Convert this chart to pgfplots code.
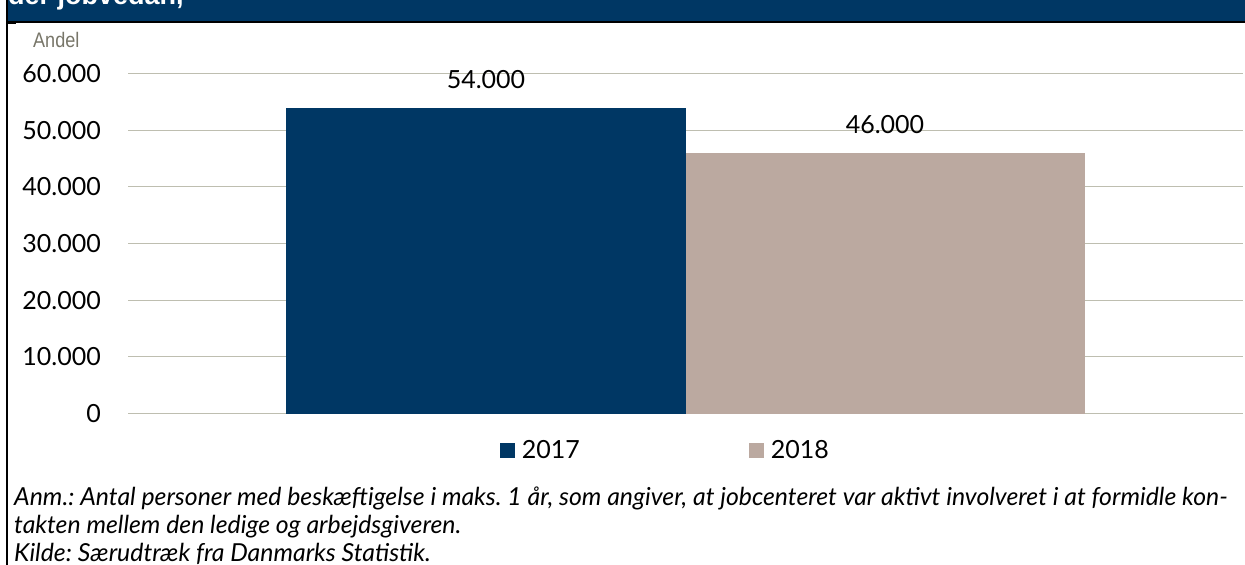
\documentclass[border=0pt]{standalone}
\usepackage{fontspec}
\setmainfont{Lato}
\newfontfamily\arialfont{Liberation Sans}
\usepackage{graphicx}
\usepackage{pgfplots}
\pgfplotsset{compat=1.18}
\definecolor{dkblue}{RGB}{0,55,100}
\definecolor{beige}{RGB}{187,169,160}
\definecolor{gridc}{RGB}{190,190,176}
\definecolor{andelc}{RGB}{120,118,105}
\frenchspacing
\begin{document}
\begin{tikzpicture}[x=1bp,y=1bp]
\path[use as bounding box] (0,0) rectangle (1245,-565);
\clip (0,0) rectangle (1245,-565);
\fill[white] (0,0) rectangle (1245,-565);
% title band
\fill[dkblue] (7,0) rectangle (1245,-21.5);
\draw[black, line width=1.5bp] (7,-22) -- (1245,-22);
\draw[black, line width=2bp] (6.5,0) -- (6.5,-565);
\draw[black, line width=1.5bp] (7,-23.5) -- (16,-23.5);
\node[anchor=base west, inner sep=0pt, text=white, font=\arialfont\bfseries\fontsize{27bp}{30bp}\selectfont] at (8,-4.5) {der jobvedah,};
% Andel
\node[anchor=base west, inner sep=0pt, text=andelc] at (33,-48) {\scalebox{0.86}[1]{\arialfont\fontsize{21bp}{24bp}\selectfont Andel}};
\begin{axis}[
  at={(128bp,-413.5bp)}, anchor=south west,
  width=1115bp, height=340bp, scale only axis,
  xmin=-1, xmax=1, ymin=0, ymax=60000,
  ytick={0,10000,20000,30000,40000,50000,60000},
  scaled y ticks=false,
  xtick=\empty,
  axis line style={draw=none},
  major tick length=0pt,
  ymajorgrids, grid style={gridc, line width=1bp},
  /pgf/number format/assume math mode=true,
  /pgf/number format/1000 sep={.},
  yticklabel style={font=\fontsize{25bp}{28bp}\selectfont, anchor=east, inner sep=0pt, xshift=-27bp},
  ybar=0pt, bar width=399bp,
  clip=false,
  nodes near coords,
  every node near coord/.append style={font=\fontsize{25bp}{28bp}\selectfont, anchor=base, inner sep=0pt, yshift=19bp, text=black},
  legend columns=2,
  legend style={draw=none, fill=none, inner sep=0pt, outer sep=0pt,
    at={(0.3336,-0.1088)}, anchor=west,
    font=\fontsize{25bp}{28bp}\selectfont,
    nodes={inner sep=0pt, anchor=west},
    /tikz/every odd column/.append style={column sep=7bp},
    /tikz/every even column/.append style={column sep=169bp}},
  legend image code/.code={\fill[#1] (0bp,-7.5bp) rectangle (15bp,7.5bp);},
]
\addplot[fill=dkblue, draw=none] coordinates {(0,54000)};
\addplot[fill=beige, draw=none] coordinates {(0,46000)};
\legend{2017,2018}
\end{axis}
% notes
\begin{scope}[every node/.style={anchor=base west, inner sep=0pt, font=\itshape\fontsize{24.8bp}{28bp}\selectfont}]
\node at (14,-505) {Anm.: Antal personer med beskæftigelse i maks. 1 år, som angiver, at jobcenteret var aktivt involveret i at formidle kon-};
\node at (14,-533) {takten mellem den ledige og arbejdsgiveren.};
\node at (14,-561) {Kilde: Særudtræk fra Danmarks Statistik.};
\end{scope}
\end{tikzpicture}
\end{document}
